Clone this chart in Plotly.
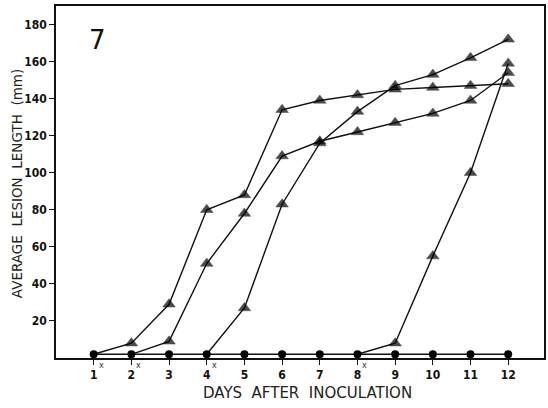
import plotly.graph_objects as go

days = list(range(1, 13))
control = [2, 2, 2, 2, 2, 2, 2, 2, 2, 2, 2, 2]

series_a_days = [1, 2, 3, 4, 5, 6, 7, 8, 9, 10, 11, 12]
series_a = [2, 8, 29, 80, 88, 134, 139, 142, 145, 146, 147, 148]

series_b_days = [2, 3, 4, 5, 6, 7, 8, 9, 10, 11, 12]
series_b = [2, 9, 51, 78, 109, 117, 122, 127, 132, 139, 154]

series_c_days = [4, 5, 6, 7, 8, 9, 10, 11, 12]
series_c = [2, 27, 83, 116, 133, 147, 153, 162, 172]

series_d_days = [8, 9, 10, 11, 12]
series_d = [2, 8, 55, 100, 159]

x_marked = [1, 2, 4, 8]
y_ticks = [20, 40, 60, 80, 100, 120, 140, 160, 180]

fig = go.Figure()

line_style = dict(color="#111111", width=1.4)
for xs, ys in [(series_a_days, series_a), (series_b_days, series_b),
               (series_c_days, series_c), (series_d_days, series_d)]:
    sizes = [0] + [11] * (len(xs) - 1)
    fig.add_trace(go.Scatter(
        x=xs, y=ys, mode="lines+markers",
        line=line_style,
        marker=dict(symbol="triangle-up", size=sizes, color="#000000",
                    line=dict(width=0.5, color="#000000")),
        showlegend=False, hoverinfo="skip"))

fig.add_trace(go.Scatter(
    x=days, y=control, mode="lines+markers",
    line=dict(color="#111111", width=1.4),
    marker=dict(symbol="circle", size=8, color="#000000"),
    showlegend=False, hoverinfo="skip"))

tick_font = dict(family="DejaVu Sans Condensed, Liberation Sans Narrow, sans-serif",
                 size=12, color="#111111", weight="bold")

fig.update_layout(
    width=548, height=408,
    margin=dict(l=56, r=2, t=6, b=50),
    paper_bgcolor="white", plot_bgcolor="white",
    xaxis=dict(range=[0, 12.95], tickvals=days, ticktext=[str(d) for d in days],
               ticks="outside", ticklen=5, tickcolor="#111111", tickwidth=1,
               showgrid=False, zeroline=False, showline=True, linecolor="#111111",
               linewidth=1.5, mirror=True, tickfont=tick_font),
    yaxis=dict(range=[0, 190], tickvals=y_ticks,
               ticks="outside", ticklen=5, tickcolor="#111111", tickwidth=1,
               showgrid=False, zeroline=False, showline=True, linecolor="#111111",
               linewidth=1.5, mirror=True, tickfont=tick_font),
)

fig.add_annotation(text="7", xref="paper", yref="paper", x=(98 - 56) / 490, y=(358 - 40) / 352,
                   xanchor="center", yanchor="middle", showarrow=False,
                   font=dict(family="DejaVu Sans", size=26, color="#111111"))
fig.add_annotation(text="AVERAGE  LESION  LENGTH  (mm)", xref="paper", yref="paper",
                   x=(17 - 56) / 490, y=(358 - 184) / 352, textangle=-90, showarrow=False,
                   xanchor="center", yanchor="middle",
                   font=dict(family="DejaVu Sans", size=13.5, color="#222222"))
fig.add_annotation(text="DAYS  AFTER  INOCULATION", xref="paper", yref="paper",
                   x=(309 - 56) / 490, y=(358 - 393) / 352, showarrow=False,
                   xanchor="center", yanchor="middle",
                   font=dict(family="DejaVu Sans", size=15, color="#222222"))
for d in x_marked:
    fig.add_annotation(text="x", x=d, xref="x", yref="paper", y=0, yshift=-1, xshift=3,
                       xanchor="left", yanchor="top",
                       showarrow=False, font=dict(family="DejaVu Sans", size=8, color="#333333"))

fig.write_html("out.html")
